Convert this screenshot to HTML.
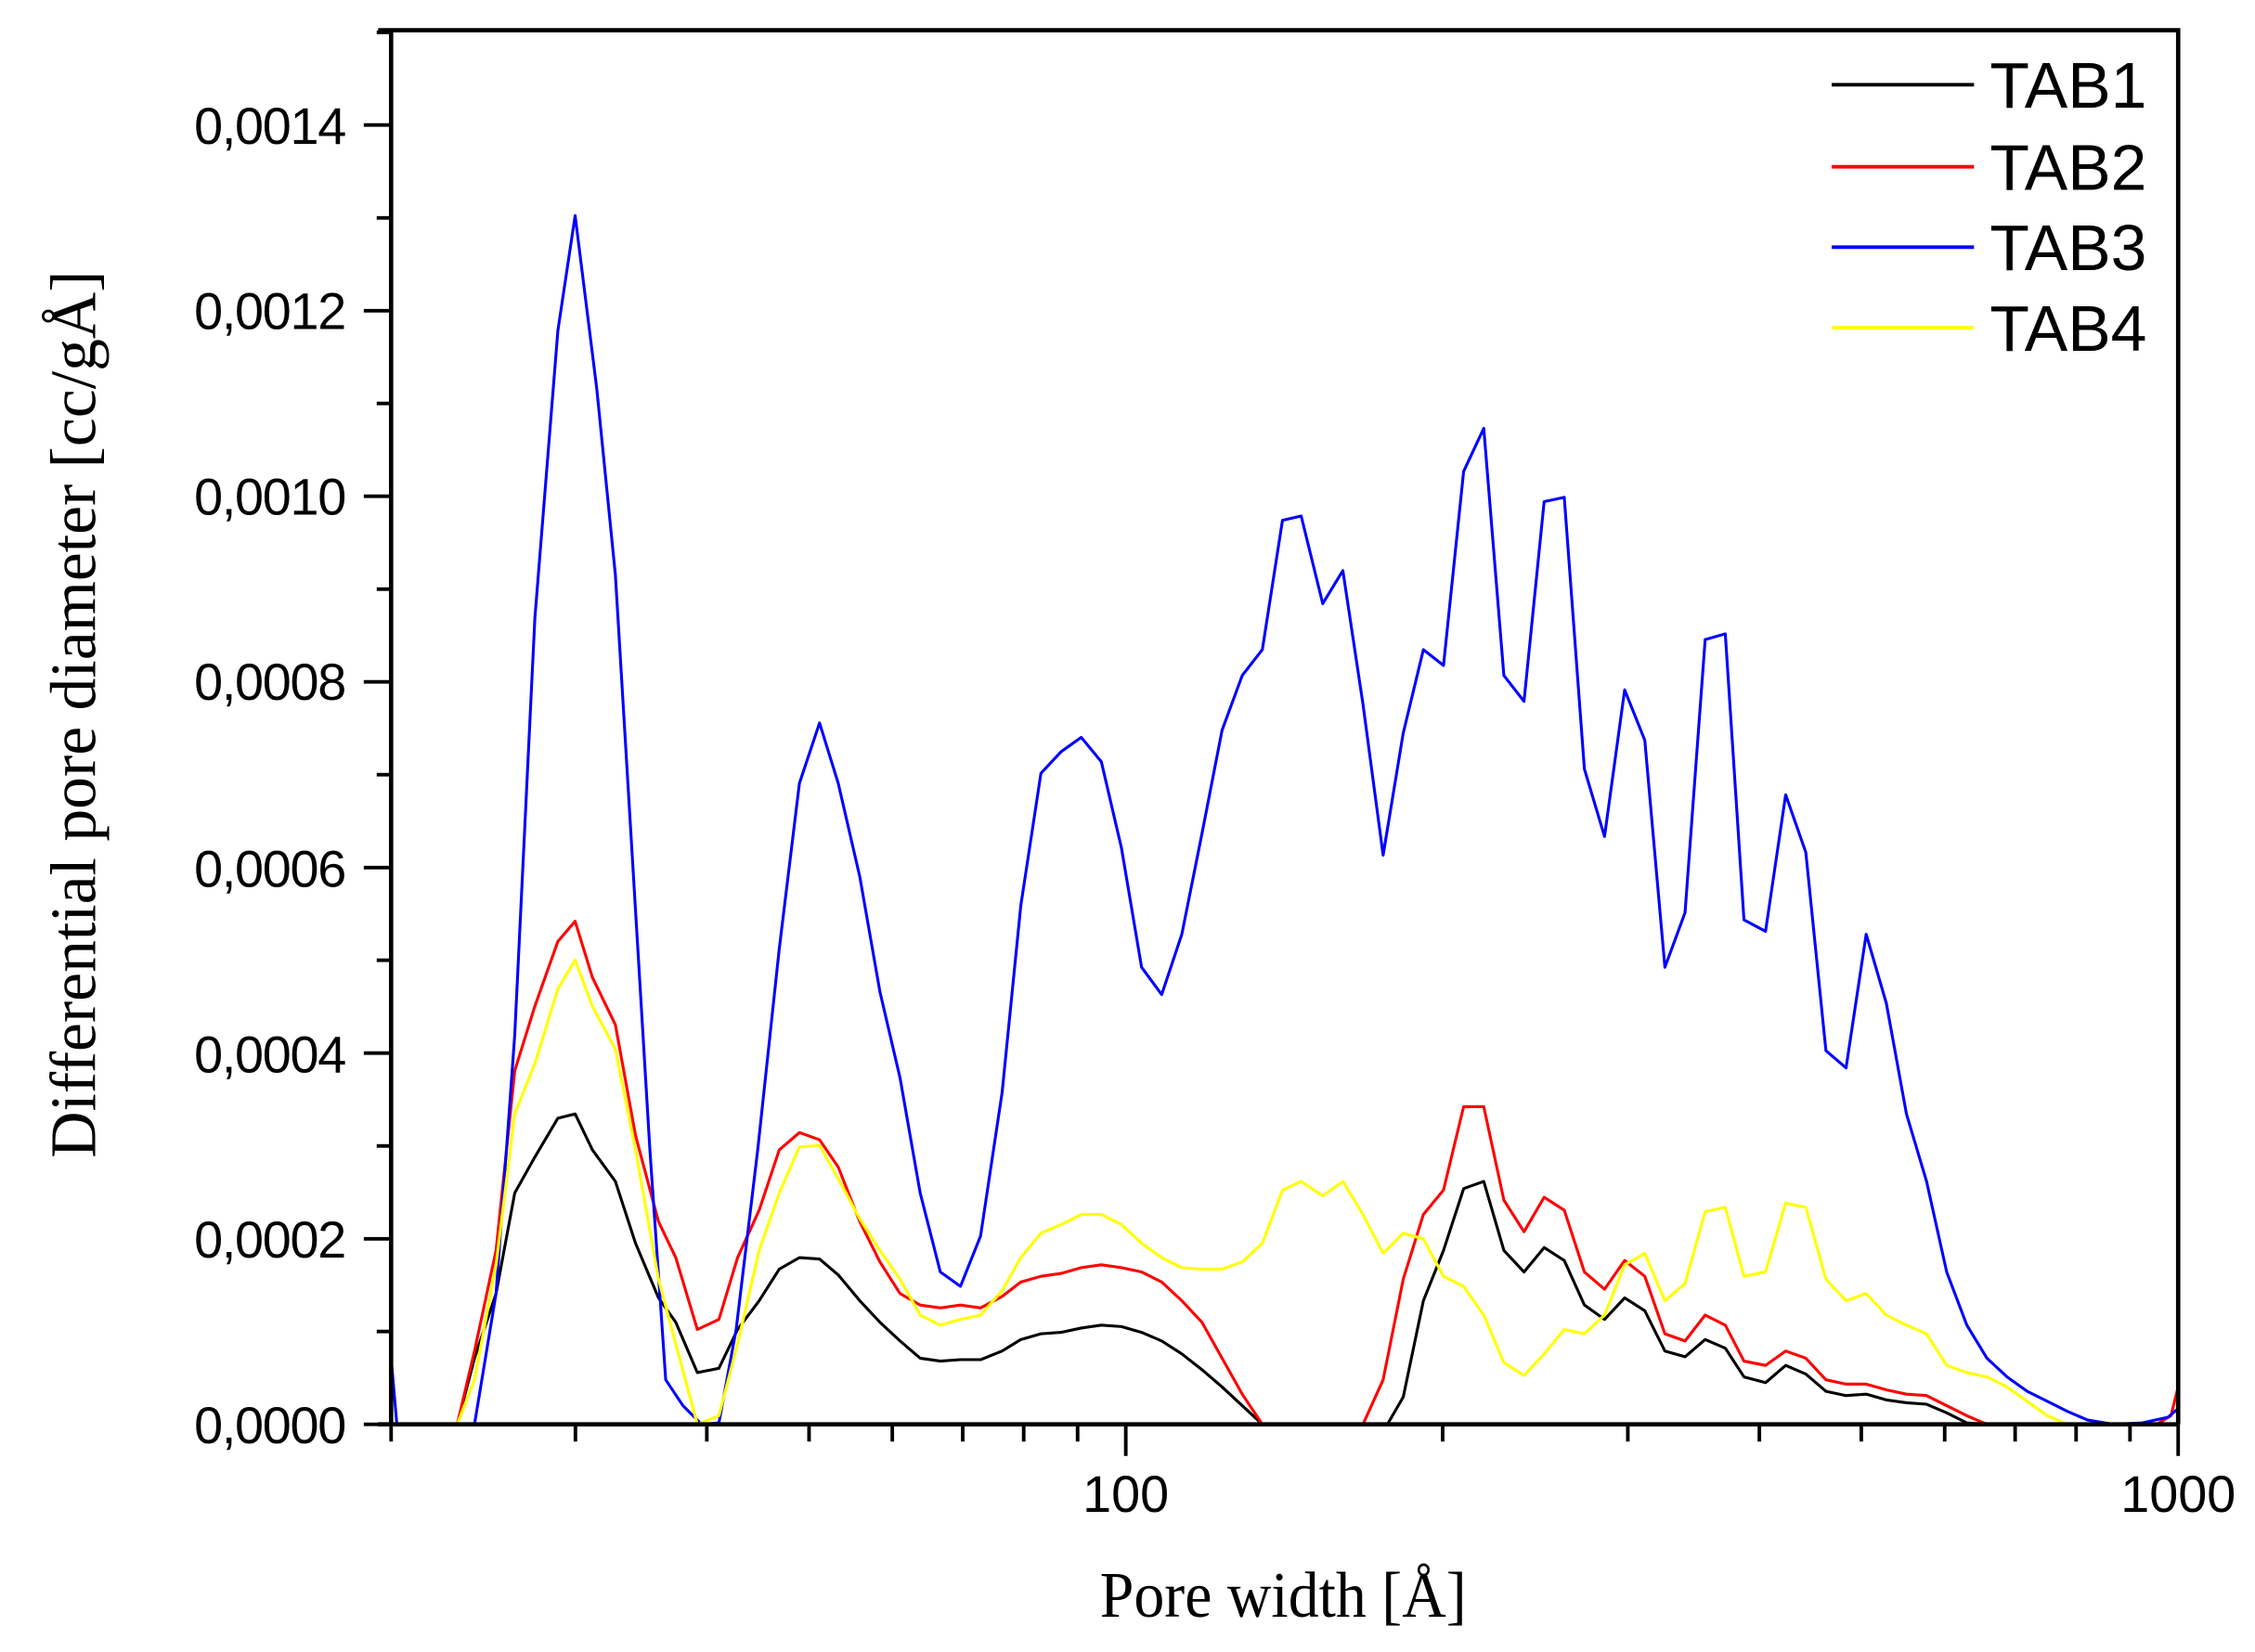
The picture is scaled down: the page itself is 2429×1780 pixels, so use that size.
<!DOCTYPE html>
<html><head><meta charset="utf-8"><style>html,body{margin:0;padding:0;background:#fff}svg{display:block}</style></head>
<body>
<svg width="2429" height="1780" viewBox="0 0 1568.4 1149.4" xmlns="http://www.w3.org/2000/svg">
<rect width="1568.4" height="1149.4" fill="#fff"/>
<g fill="none" stroke-linejoin="round" stroke-width="2">
<polyline stroke="#000" points="318,991 330,945 345,900 358,830 372,805 388,778 400,775 412,800 428,822 442,865 458,903 470,920 485,955 500,952 513,925 528,905 542,883 556,875 570,876 583,887 598,905 612,920 626,933 640,945 654,947 668,946 682,946 697,940 710,932 724,928 738,927 752,924 766,922 780,923 794,927 808,933 822,942 836,953 850,965 864,978 878,991 965,991 976,972 990,905 1004,870 1018,827 1032,822 1046,870 1060,885 1074,868 1088,877 1102,908 1116,918 1130,903 1144,912 1158,940 1172,944 1186,932 1200,938 1213,958 1228,962 1242,950 1256,956 1270,968 1284,971 1298,970 1312,974 1326,976 1340,977 1354,983 1368,990 1382,991"/>
<polyline stroke="#f00" points="300,991 318,991 330,940 345,870 358,745 372,700 388,655 400,641 412,680 428,713 442,790 458,850 470,875 485,925 500,918 513,875 528,842 542,800 556,788 570,793 583,812 598,850 612,878 626,900 640,908 654,910 668,908 682,910 697,902 710,892 724,888 738,886 752,882 766,880 780,882 794,885 808,892 822,905 836,920 850,945 864,970 878,991 948,991 962,960 976,890 990,845 1004,828 1018,770 1032,770 1046,835 1060,857 1074,833 1088,842 1102,885 1116,897 1130,877 1144,888 1158,928 1172,933 1186,915 1200,922 1213,947 1228,950 1242,940 1256,945 1270,960 1284,963 1298,963 1312,967 1326,970 1340,971 1354,978 1368,985 1382,991 1500,991 1510,985 1515,965"/>
<polyline stroke="#00f" points="272,945 276,991 300,991 330,991 345,900 358,720 372,430 388,230 400,150 415,270 428,400 440,600 452,800 463,960 475,978 488,991 500,990 512,925 527,800 542,660 556,545 570,503 583,545 598,610 612,690 626,750 640,830 654,885 668,895 682,860 697,760 710,630 724,538 738,523 752,513 766,530 780,590 794,673 808,692 822,650 836,580 850,508 864,470 878,452 892,362 905,359 920,420 934,397 948,490 962,595 976,510 990,452 1004,463 1018,328 1032,298 1046,470 1060,488 1074,349 1088,346 1102,535 1116,582 1130,480 1144,515 1158,673 1172,635 1186,445 1200,441 1213,640 1228,648 1242,553 1256,593 1270,731 1284,743 1298,650 1312,698 1326,775 1340,822 1354,885 1368,922 1382,945 1396,958 1410,968 1424,975 1438,982 1452,988 1470,991 1490,990 1508,986 1515,980"/>
<polyline stroke="#ff0" points="300,991 318,991 330,960 345,880 358,775 372,740 388,688 400,668 412,700 428,730 442,800 458,890 470,935 485,991 500,985 513,935 528,870 542,830 556,798 570,797 583,820 598,848 612,870 626,890 640,915 654,922 668,918 682,915 697,898 710,875 724,858 738,852 752,845 766,845 780,852 794,865 808,875 822,882 836,883 850,883 864,878 878,865 892,828 905,822 920,832 934,822 948,845 962,872 976,858 990,862 1004,888 1018,895 1032,915 1046,948 1060,957 1074,942 1088,925 1102,928 1116,915 1130,880 1144,872 1158,905 1172,893 1186,843 1200,840 1213,888 1228,885 1242,837 1256,840 1270,890 1284,905 1298,900 1312,915 1326,922 1340,928 1354,950 1368,955 1382,958 1396,965 1410,975 1424,985 1438,991 1515,991"/>
</g>
<g stroke="#000" stroke-width="3" fill="none">
<polyline points="263,21 1515,21 1515,991"/>
<line x1="272" y1="21" x2="272" y2="991"/>
<line x1="263" y1="991" x2="1515" y2="991"/>
</g>
<g stroke="#000" stroke-width="2.5">
<line x1="253" y1="991" x2="272" y2="991"/><line x1="262" y1="926.4" x2="272" y2="926.4"/>
<line x1="253" y1="861.9" x2="272" y2="861.9"/><line x1="262" y1="797.3" x2="272" y2="797.3"/>
<line x1="253" y1="732.7" x2="272" y2="732.7"/><line x1="262" y1="668.1" x2="272" y2="668.1"/>
<line x1="253" y1="603.6" x2="272" y2="603.6"/><line x1="262" y1="539" x2="272" y2="539"/>
<line x1="253" y1="474.4" x2="272" y2="474.4"/><line x1="262" y1="409.9" x2="272" y2="409.9"/>
<line x1="253" y1="345.3" x2="272" y2="345.3"/><line x1="262" y1="280.7" x2="272" y2="280.7"/>
<line x1="253" y1="216.2" x2="272" y2="216.2"/><line x1="262" y1="151.6" x2="272" y2="151.6"/>
<line x1="253" y1="87" x2="272" y2="87"/><line x1="262" y1="22.5" x2="272" y2="22.5"/>
<line x1="272" y1="991" x2="272" y2="1003"/>
<line x1="400.2" y1="991" x2="400.2" y2="1003"/><line x1="491.6" y1="991" x2="491.6" y2="1003"/>
<line x1="562.7" y1="991" x2="562.7" y2="1003"/><line x1="620.6" y1="991" x2="620.6" y2="1003"/>
<line x1="669.6" y1="991" x2="669.6" y2="1003"/><line x1="712" y1="991" x2="712" y2="1003"/>
<line x1="749.5" y1="991" x2="749.5" y2="1003"/><line x1="783" y1="991" x2="783" y2="1013"/>
<line x1="1003.4" y1="991" x2="1003.4" y2="1003"/><line x1="1132.2" y1="991" x2="1132.2" y2="1003"/>
<line x1="1223.7" y1="991" x2="1223.7" y2="1003"/><line x1="1294.6" y1="991" x2="1294.6" y2="1003"/>
<line x1="1352.6" y1="991" x2="1352.6" y2="1003"/><line x1="1401.6" y1="991" x2="1401.6" y2="1003"/>
<line x1="1444" y1="991" x2="1444" y2="1003"/><line x1="1481.5" y1="991" x2="1481.5" y2="1003"/>
<line x1="1515" y1="991" x2="1515" y2="1013"/>
</g>
<g font-family="Liberation Sans, sans-serif" font-size="36" fill="#000" text-anchor="end">
<text x="241" y="1004" textLength="106">0,0000</text><text x="241" y="875" textLength="106">0,0002</text><text x="241" y="746" textLength="106">0,0004</text>
<text x="241" y="617" textLength="106">0,0006</text><text x="241" y="487" textLength="106">0,0008</text><text x="241" y="358" textLength="106">0,0010</text>
<text x="241" y="229" textLength="106">0,0012</text><text x="241" y="100" textLength="106">0,0014</text>
</g>
<g font-family="Liberation Sans, sans-serif" font-size="36" fill="#000" text-anchor="middle">
<text x="783" y="1052">100</text><text x="1515" y="1052">1000</text>
</g>
<text x="765" y="1125" font-family="Liberation Serif, serif" font-size="45" textLength="255" lengthAdjust="spacingAndGlyphs">Pore width [Å]</text>
<text transform="translate(66,497) rotate(-90)" font-family="Liberation Serif, serif" font-size="45" text-anchor="middle">Differential pore diameter [cc/gÅ]</text>
<g stroke-width="2.5">
<line x1="1274" y1="59" x2="1373" y2="59" stroke="#000"/>
<line x1="1274" y1="116" x2="1373" y2="116" stroke="#f00"/>
<line x1="1274" y1="172" x2="1373" y2="172" stroke="#00f"/>
<line x1="1274" y1="228" x2="1373" y2="228" stroke="#ff0"/>
</g>
<g font-family="Liberation Sans, sans-serif" font-size="45" fill="#000">
<text x="1384" y="75">TAB1</text><text x="1384" y="132">TAB2</text>
<text x="1384" y="188">TAB3</text><text x="1384" y="244">TAB4</text>
</g>
</svg>
</body></html>
